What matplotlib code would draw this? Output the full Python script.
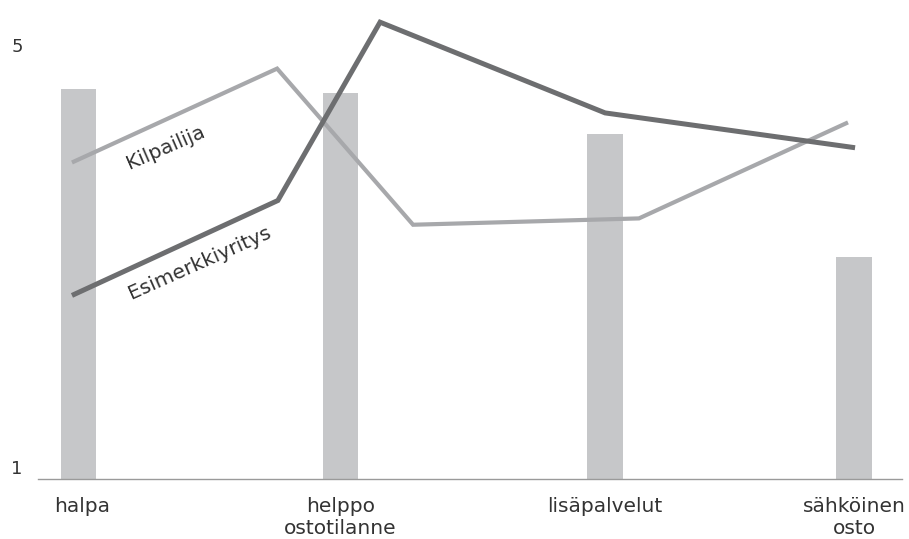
import matplotlib
matplotlib.use("Agg")
import matplotlib.pyplot as plt
from matplotlib.transforms import ScaledTranslation

# ---- data ----
categories = ["halpa", "helppo\nostotilanne", "lisäpalvelut", "sähköinen\nosto"]
bar_x = [0.0, 1.0, 2.01, 2.96]
bar_values = [4.70, 4.66, 4.27, 3.10]

kilpailija_x = [-0.025, 0.758, 1.277, 2.139, 2.937]
kilpailija_y = [4.00, 4.89, 3.41, 3.47, 4.38]

esimerkki_x = [-0.025, 0.761, 1.151, 2.01, 2.964]
esimerkki_y = [2.74, 3.64, 5.33, 4.47, 4.14]

y_ticks = [1, 5]
y_ticklabels = ["1", "5"]

plt.rcParams['font.family'] = ['DejaVu Sans']

W, H = 909, 539
fig = plt.figure(figsize=(W / 100, H / 100), dpi=100)
left_px, right_px, bottom_px, top_px = 38, 902, 479, 10
ax = fig.add_axes([left_px / W, 1 - bottom_px / H,
                   (right_px - left_px) / W, (bottom_px - top_px) / H])

bar_color = "#c6c7c9"
light = "#a7a8ab"
dark = "#6d6e70"
text_color = "#333333"

ax.bar(bar_x, [v - 1 for v in bar_values], bottom=1, width=0.137,
       color=bar_color, zorder=1)
ax.plot(kilpailija_x, kilpailija_y, color=light, lw=3.0,
        solid_capstyle="butt", solid_joinstyle="miter", zorder=2)
ax.plot(esimerkki_x, esimerkki_y, color=dark, lw=3.6,
        solid_capstyle="butt", solid_joinstyle="miter", zorder=3)

ax.set_xlim((left_px - 78.5) / 262, (right_px - 78.5) / 262)
ax.set_ylim(1, 1 + (bottom_px - top_px) / 105.5)

for s in ["top", "right", "left"]:
    ax.spines[s].set_visible(False)
ax.spines["bottom"].set_color("#9a9a9a")
ax.spines["bottom"].set_linewidth(1.0)

ax.set_yticks(y_ticks)
ax.set_yticklabels(y_ticklabels, fontsize=13, color=text_color)
ax.tick_params(axis="y", length=0, pad=11)
offset = ScaledTranslation(0, 12 / 100, fig.dpi_scale_trans)
for lab in ax.get_yticklabels():
    lab.set_transform(lab.get_transform() + offset)

ax.set_xticks(bar_x)
ax.set_xticklabels(categories, fontsize=14.5, color=text_color, linespacing=1.2)
ax.tick_params(axis="x", length=0, pad=13)
xoff = ScaledTranslation(4 / 100, 0, fig.dpi_scale_trans)
ax.get_xticklabels()[0].set_transform(ax.get_xticklabels()[0].get_transform() + xoff)

# in-line series labels
ax.text(0.334, 4.137, "Kilpailija", rotation=23.5, rotation_mode="anchor",
        ha="center", va="center", fontsize=14.5, color=text_color)
ax.text(0.464, 3.047, "Esimerkkiyritys", rotation=24, rotation_mode="anchor",
        ha="center", va="center", fontsize=14.5, color=text_color)

fig.savefig("out.png", dpi=100)
